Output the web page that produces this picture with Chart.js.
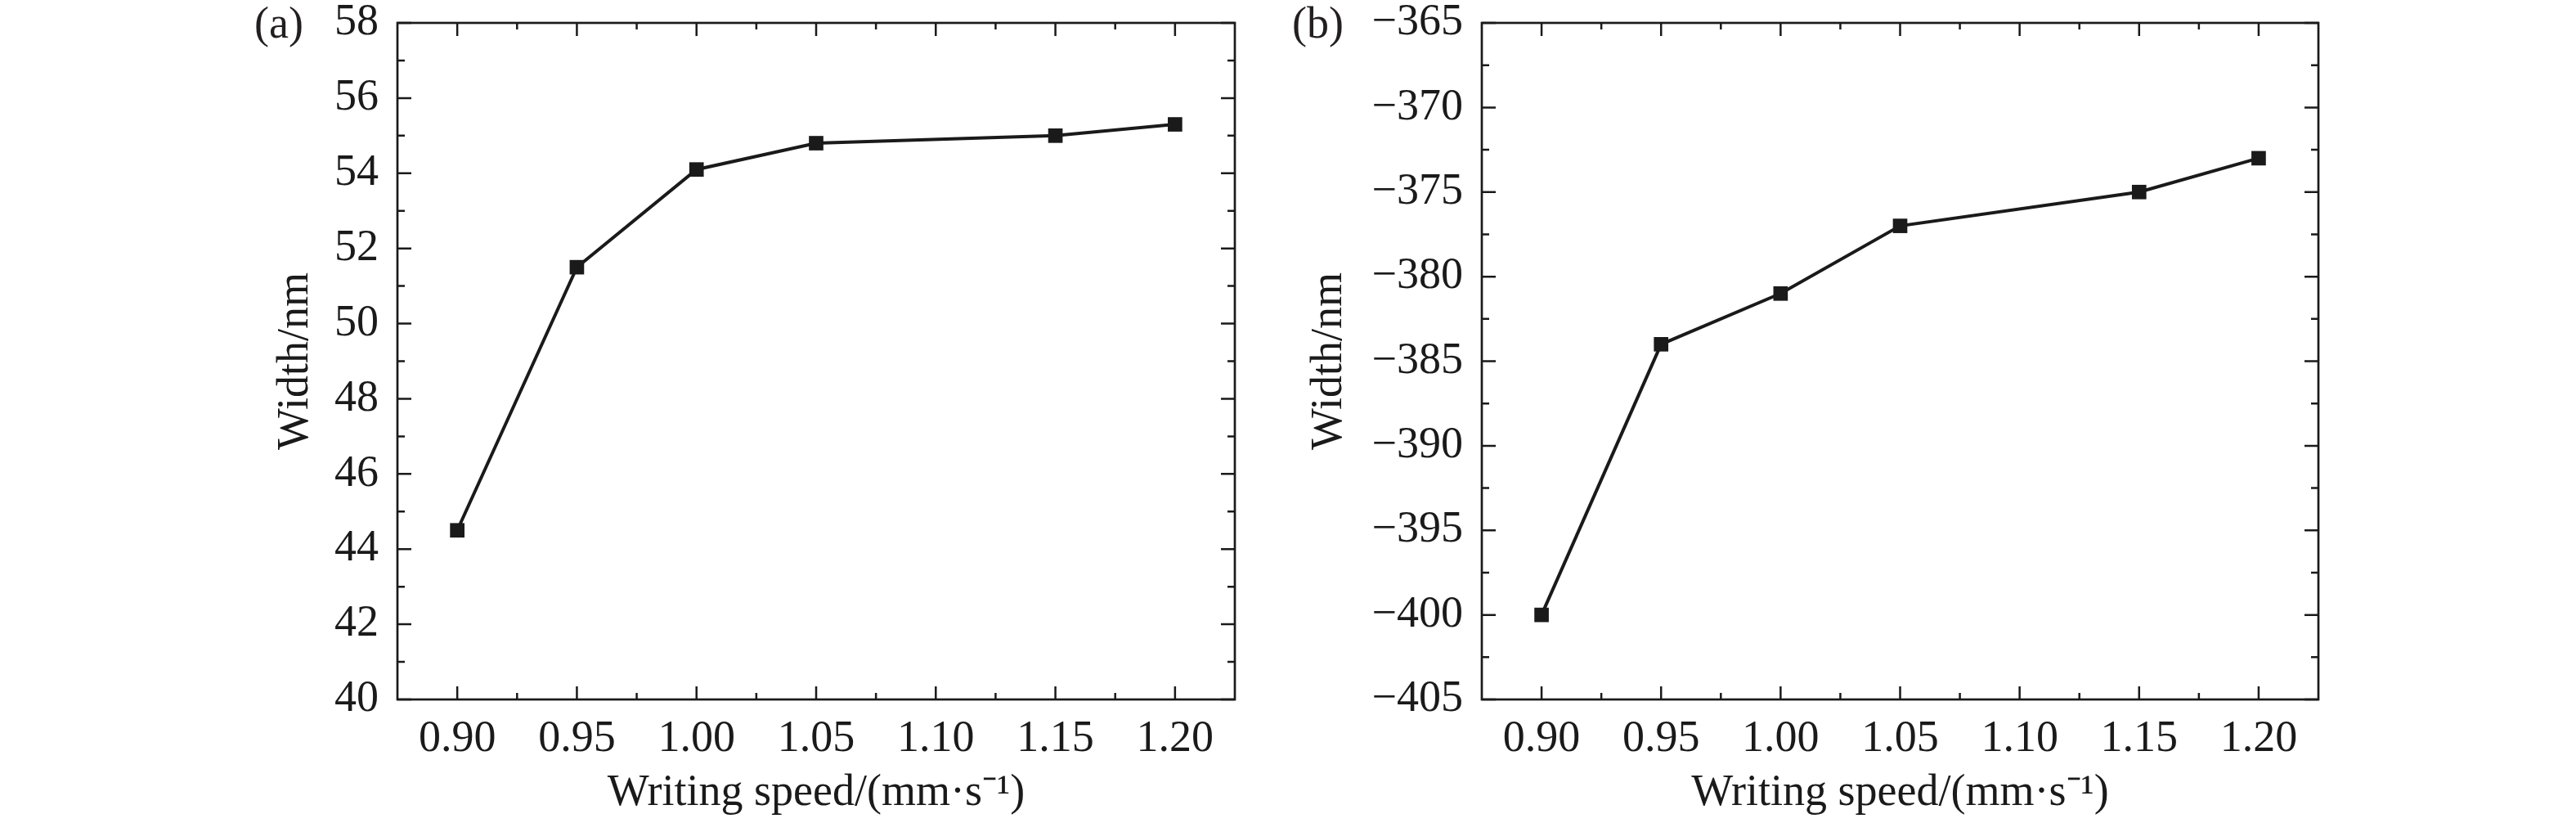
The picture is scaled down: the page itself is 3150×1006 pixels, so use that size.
<!DOCTYPE html>
<html><head><meta charset="utf-8">
<script src="https://cdn.jsdelivr.net/npm/chart.js@4.4.1/dist/chart.umd.min.js"></script>
<style>
html,body{margin:0;padding:0;background:#fff;}
body{width:3150px;height:1006px;position:relative;overflow:hidden;}
.panel{position:absolute;top:0;width:1575px;height:1006px;}
.lbl{position:absolute;font-family:'Liberation Serif','Times New Roman',serif;font-size:54px;line-height:54px;color:#231f20;white-space:nowrap;}
</style></head><body>
<div class="panel" style="left:0"><canvas id="ca"></canvas></div>
<div class="panel" style="left:1575px"><canvas id="cb"></canvas></div>
<div class="lbl" style="left:311px;top:1px">(a)</div>
<div class="lbl" style="left:1580px;top:1px">(b)</div>
<script>
// ---- data ----
const speeds = [0.90, 0.95, 1.00, 1.05, 1.15, 1.20];
const widthA = [44.5, 51.5, 54.1, 54.8, 55.0, 55.3];
const widthB = [-400, -384, -381, -377, -375, -373];

const xTicks = [0.90, 0.95, 1.00, 1.05, 1.10, 1.15, 1.20];
const xTickLabels = ['0.90', '0.95', '1.00', '1.05', '1.10', '1.15', '1.20'];
const xMinor = [0.925, 0.975, 1.025, 1.075, 1.125, 1.175];

const yTicksA = [40, 42, 44, 46, 48, 50, 52, 54, 56, 58];
const yTickLabelsA = ['40', '42', '44', '46', '48', '50', '52', '54', '56', '58'];
const yMinorA = [41, 43, 45, 47, 49, 51, 53, 55, 57];

const yTicksB = [-405, -400, -395, -390, -385, -380, -375, -370, -365];
const yTickLabelsB = ['\u2212405', '\u2212400', '\u2212395', '\u2212390', '\u2212385', '\u2212380', '\u2212375', '\u2212370', '\u2212365'];
const yMinorB = [-402.5, -397.5, -392.5, -387.5, -382.5, -377.5, -372.5, -367.5];

const xTitle = 'Writing speed/(mm\u00B7s\u207B\u00B9)';
const yTitle = 'Width/nm';

// ---- style ----
const INK = '#1a1a1a';
const FONT = "'Liberation Serif', 'Times New Roman', serif";

function framePlugin(yMajor, yMinor) {
  return {
    id: 'frame',
    beforeDatasetsDraw(chart) {
      const {ctx, chartArea: a, scales: {x, y}} = chart;
      ctx.save();
      ctx.strokeStyle = INK;
      ctx.lineWidth = 2.5;
      ctx.beginPath();
      const vt = (v, len) => {
        const px = x.getPixelForValue(v);
        ctx.moveTo(px, a.bottom); ctx.lineTo(px, a.bottom - len);
        ctx.moveTo(px, a.top); ctx.lineTo(px, a.top + len);
      };
      const ht = (v, len) => {
        const py = y.getPixelForValue(v);
        ctx.moveTo(a.left, py); ctx.lineTo(a.left + len, py);
        ctx.moveTo(a.right, py); ctx.lineTo(a.right - len, py);
      };
      xTicks.forEach(v => vt(v, 16));
      xMinor.forEach(v => vt(v, 8));
      yMajor.forEach(v => ht(v, 17));
      yMinor.forEach(v => ht(v, 9));
      ctx.stroke();
      ctx.lineWidth = 2.7;
      ctx.strokeRect(a.left, a.top, a.right - a.left, a.bottom - a.top);
      ctx.restore();
    }
  };
}

function makeChart(id, yVals, yMin, yMax, yMajor, yLabels, yMinor, yWidth, yTitlePad, rightPad) {
  return new Chart(document.getElementById(id), {
    type: 'line',
    data: {
      datasets: [{
        data: speeds.map((s, i) => ({x: s, y: yVals[i]})),
        borderColor: INK,
        borderWidth: 4,
        pointStyle: 'rect',
        pointRadius: 12.5,
        pointHoverRadius: 12.5,
        pointBackgroundColor: INK,
        pointBorderColor: INK,
        pointBorderWidth: 0,
        tension: 0,
        fill: false
      }]
    },
    options: {
      responsive: true,
      maintainAspectRatio: false,
      animation: false,
      devicePixelRatio: 1,
      layout: {padding: {left: 0, right: rightPad, top: 28, bottom: 0}},
      plugins: {legend: {display: false}, tooltip: {enabled: false}},
      scales: {
        x: {
          type: 'linear', min: 0.875, max: 1.225,
          grid: {display: false, drawTicks: false},
          border: {display: false},
          afterBuildTicks: s => { s.ticks = xTicks.map(v => ({value: v})); },
          afterFit: s => { s.height = 151; s.paddingLeft = 0; s.paddingRight = 0; },
          ticks: {
            autoSkip: false, maxRotation: 0, minRotation: 0, padding: 16, color: INK,
            font: {family: FONT, size: 54, lineHeight: 1.2},
            callback: (v, i) => xTickLabels[i]
          },
          title: {
            display: true, text: xTitle, color: INK,
            font: {family: FONT, size: 54, lineHeight: 1.2},
            padding: {top: 0, bottom: 4}
          }
        },
        y: {
          type: 'linear', min: yMin, max: yMax,
          grid: {display: false, drawTicks: false},
          border: {display: false},
          afterBuildTicks: s => { s.ticks = yMajor.map(v => ({value: v})); },
          afterFit: s => { s.width = yWidth; s.paddingTop = 0; s.paddingBottom = 0; },
          ticks: {
            autoSkip: false, padding: 23, color: INK,
            font: {family: FONT, size: 54, lineHeight: 1},
            callback: (v, i) => yLabels[i]
          },
          title: {
            display: true, text: yTitle, color: INK,
            font: {family: FONT, size: 54, lineHeight: 1.2},
            padding: {top: yTitlePad, bottom: 0}
          }
        }
      }
    },
    plugins: [framePlugin(yMajor, yMinor)]
  });
}

makeChart('ca', widthA, 40, 58, yTicksA, yTickLabelsA, yMinorA, 486, 329, 65);
makeChart('cb', widthB, -405, -365, yTicksB, yTickLabelsB, yMinorB, 237, 18, 315);
</script>
</body></html>
